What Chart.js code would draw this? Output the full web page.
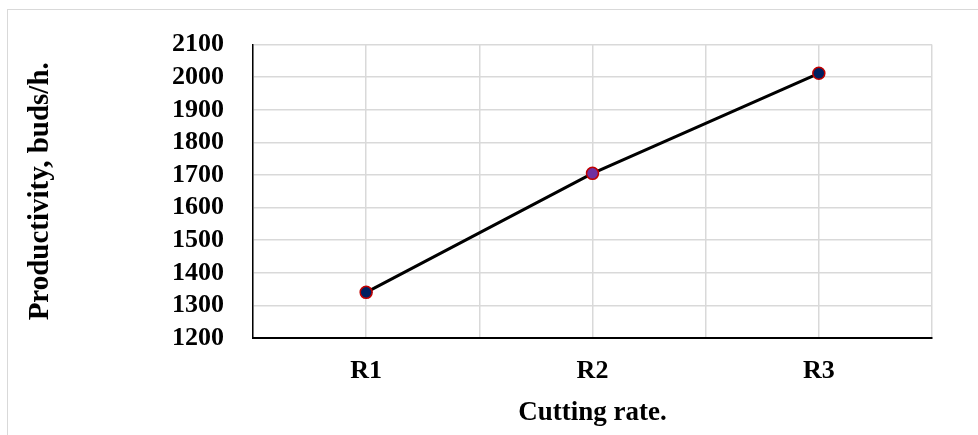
<!DOCTYPE html>
<html>
<head>
<meta charset="utf-8">
<script src="https://cdn.jsdelivr.net/npm/chart.js@4"></script>
<style>
  body { margin: 0; background: #fff; }
  #frame { position: absolute; left: 7px; top: 9px; width: 990px; height: 450px; border: 1.5px solid #d9d9d9; }
  #productivityChart { position: absolute; left: 0; top: 0; }
</style>
</head>
<body>
<div id="frame"></div>
<canvas id="productivityChart" width="978" height="435"></canvas>
<script>
const categories = ['R1', 'R2', 'R3'];
const productivity = [1340, 1705, 2012];
const pointColors = ['#002060', '#7030A0', '#002060'];
const yTicks = { min: 1200, max: 2100, step: 100 };

const points = categories.map((name, i) => ({ x: i + 1, y: productivity[i] }));
const fontFamily = "'Liberation Serif', 'Times New Roman', serif";

const ctx = document.getElementById('productivityChart').getContext('2d');
new Chart(ctx, {
    type: 'line',
    data: {
        datasets: [{
            data: points,
            borderColor: '#000000',
            borderWidth: 3,
            pointRadius: 6,
            pointHoverRadius: 6,
            pointBackgroundColor: pointColors,
            pointBorderColor: '#C00000',
            pointBorderWidth: 1.5,
            tension: 0
        }]
    },
    options: {
        responsive: false,
        animation: false,
        layout: { padding: { left: 0, top: 43, right: 46, bottom: 0 } },
        plugins: { legend: { display: false }, tooltip: { enabled: false } },
        scales: {
            x: {
                type: 'linear',
                min: 0.5,
                max: categories.length + 0.5,
                afterFit: scale => { scale.height = 97; },
                afterBuildTicks: scale => {
                    // ticks at every category and halfway between, so grid lines fall on both
                    const ticks = [];
                    for (let v = 0.5; v <= categories.length + 0.5; v += 0.5) ticks.push({ value: v });
                    scale.ticks = ticks;
                },
                grid: { color: '#d9d9d9', lineWidth: 1.5, drawTicks: false },
                border: { color: '#000000', width: 2 },
                ticks: {
                    autoSkip: false,
                    maxRotation: 0,
                    padding: 18,
                    color: '#000000',
                    font: { family: fontFamily, size: 26, weight: 'bold' },
                    callback: value => Number.isInteger(value) ? categories[value - 1] : ''
                },
                title: {
                    display: true,
                    text: 'Cutting rate.',
                    color: '#000000',
                    padding: { top: 0, bottom: 6 },
                    font: { family: fontFamily, size: 27, weight: 'bold' }
                }
            },
            y: {
                min: yTicks.min,
                max: yTicks.max,
                afterFit: scale => { scale.width = 253; },
                afterBuildTicks: scale => {
                    const ticks = [];
                    for (let v = yTicks.min; v <= yTicks.max; v += yTicks.step) ticks.push({ value: v });
                    scale.ticks = ticks;
                },
                grid: { color: '#d9d9d9', lineWidth: 1.5, drawTicks: false },
                border: { color: '#000000', width: 1.5 },
                ticks: {
                    autoSkip: false,
                    padding: 29,
                    color: '#000000',
                    font: { family: fontFamily, size: 26, weight: 'bold' },
                    callback: value => String(value)
                },
                title: {
                    display: true,
                    text: 'Productivity, buds/h.',
                    color: '#000000',
                    padding: { top: 23, bottom: 0 },
                    font: { family: fontFamily, size: 29, weight: 'bold' }
                }
            }
        }
    }
});
</script>
</body>
</html>
